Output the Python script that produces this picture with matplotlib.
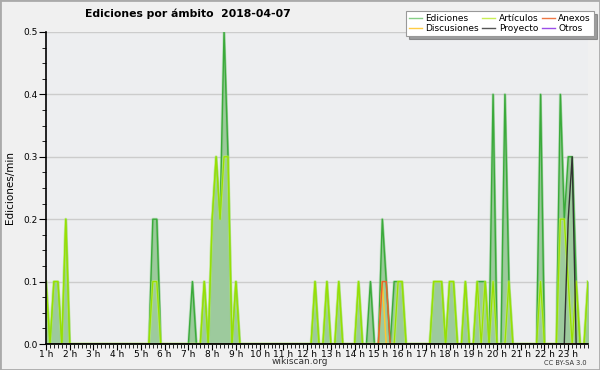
import numpy as np
import matplotlib
matplotlib.use("Agg")
import matplotlib.pyplot as plt
from matplotlib.patches import Rectangle
from matplotlib.ticker import MultipleLocator, FormatStrFormatter

# franjas de 10 minutos, de 01:00 a 23:50
n_franjas = 138
horas = [str(h) + " h" for h in range(1, 24)]

# valores (ediciones/min) por franja "HH:MM"
ediciones = [("01:00", 0.1), ("01:20", 0.1), ("01:30", 0.1), ("01:50", 0.2),
             ("05:30", 0.2), ("05:40", 0.2), ("07:10", 0.1), ("07:40", 0.1),
             ("08:00", 0.2), ("08:10", 0.3), ("08:20", 0.2), ("08:30", 0.5),
             ("08:40", 0.3), ("09:00", 0.1), ("12:20", 0.1), ("12:50", 0.1),
             ("13:20", 0.1), ("14:10", 0.1), ("14:40", 0.1), ("15:10", 0.2),
             ("15:20", 0.1), ("15:40", 0.1), ("15:50", 0.1), ("16:00", 0.1),
             ("17:20", 0.1), ("17:30", 0.1), ("17:40", 0.1), ("18:00", 0.1),
             ("18:10", 0.1), ("18:40", 0.1), ("19:10", 0.1), ("19:20", 0.1),
             ("19:30", 0.1), ("19:50", 0.4), ("20:20", 0.4), ("20:30", 0.1),
             ("21:50", 0.4), ("22:40", 0.4), ("22:50", 0.2), ("23:00", 0.3),
             ("23:10", 0.3), ("23:20", 0.1), ("23:50", 0.1)]
articulos = [("01:00", 0.1), ("01:20", 0.1), ("01:30", 0.1), ("01:50", 0.2),
             ("05:30", 0.1), ("05:40", 0.1), ("07:40", 0.1), ("08:00", 0.2),
             ("08:10", 0.3), ("08:20", 0.2), ("08:30", 0.3), ("08:40", 0.3),
             ("09:00", 0.1), ("12:20", 0.1), ("12:50", 0.1), ("13:20", 0.1),
             ("14:10", 0.1), ("15:50", 0.1), ("16:00", 0.1), ("17:20", 0.1),
             ("17:30", 0.1), ("17:40", 0.1), ("18:00", 0.1), ("18:10", 0.1),
             ("18:40", 0.1), ("19:10", 0.1), ("19:30", 0.1), ("19:50", 0.1),
             ("20:30", 0.1), ("21:50", 0.1), ("22:40", 0.2), ("22:50", 0.2),
             ("23:00", 0.1), ("23:20", 0.1), ("23:50", 0.1)]
anexos = [("15:10", 0.1), ("15:20", 0.1)]
discusiones = [("15:10", 0.1)]
proyecto = [("23:00", 0.2), ("23:10", 0.3)]
otros = []


def serie(pares):
    arr = np.zeros(n_franjas)
    for t, v in pares:
        h, m = map(int, t.split(":"))
        arr[(h - 1) * 6 + m // 10] = v
    return arr


x = 1 + np.arange(n_franjas) / 6.0

fig = plt.figure(figsize=(6, 3.7), dpi=100, facecolor="#f0f0f0")
ax = fig.add_axes([46 / 600, 26 / 370, 542 / 600, 312 / 370])
ax.set_facecolor("#edeef0")

y_ed = serie(ediciones)
ax.fill_between(x, y_ed, color="#9dca9d", zorder=2)
ax.plot(x, y_ed, color="#6fc66f", lw=2.2, alpha=0.3, zorder=3)
ax.plot(x, y_ed, color="#3aaa3a", lw=1, zorder=3)

y_art = serie(articulos)
ax.plot(x, y_art, color="#ccff55", lw=2, alpha=0.5, zorder=4)
ax.plot(x, y_art, color="#99e000", lw=0.9, zorder=4)

ax.plot(x, serie(discusiones), color="#ffc830", lw=1.1, zorder=5)
ax.plot(x, serie(anexos), color="#e8642c", lw=1.1, zorder=5)
ax.plot(x, serie(proyecto), color="#333333", lw=1, zorder=6)
ax.plot(x, serie(otros), color="#9b4ee8", lw=1, zorder=1)

ax.set_xlim(x[0], x[-1])
ax.set_ylim(0, 0.5)
ax.set_xticks(range(1, 24))
ax.set_xticklabels(horas, fontsize=6.5)
ax.xaxis.set_minor_locator(MultipleLocator(1 / 6))
ax.yaxis.set_major_locator(MultipleLocator(0.1))
ax.yaxis.set_minor_locator(MultipleLocator(0.025))
ax.yaxis.set_major_formatter(FormatStrFormatter("%.1f"))
ax.tick_params(axis="y", which="major", length=5, labelsize=6.5, pad=1)
ax.tick_params(axis="y", which="minor", length=3)
ax.tick_params(axis="x", which="major", length=4, pad=0)
ax.tick_params(axis="x", which="minor", length=3)
ax.grid(axis="y", color="#cccccc", lw=1, zorder=1)
for s in ["top", "right"]:
    ax.spines[s].set_visible(False)
for s in ["left", "bottom"]:
    ax.spines[s].set_zorder(10)
    ax.spines[s].set_linewidth(1.2)

ax.set_ylabel("Ediciones/min", fontsize=7.5, labelpad=6)

fig.text(0.313, 0.962, "Ediciones por ámbito  2018-04-07", fontsize=7.8,
         fontweight="bold", ha="center", va="center")
fig.text(0.5, 0.022, "wikiscan.org", fontsize=6.5, ha="center", va="center",
         color="#333333")
fig.text(0.942, 0.02, "CC BY-SA 3.0", fontsize=4.8, ha="center",
         va="center", color="#333333")

colores = {"Ediciones": "#86cf86", "Discusiones": "#ffcc44",
           "Artículos": "#c8ee55", "Proyecto": "#555555",
           "Anexos": "#ee7744", "Otros": "#9b4ee8"}
handles = [plt.Line2D([], [], color=c, lw=1) for c in colores.values()]
leg = fig.legend(handles, list(colores.keys()), ncol=3, loc="upper right",
                 bbox_to_anchor=(0.99, 0.97), fontsize=6.5, frameon=True,
                 fancybox=False, shadow=True, handlelength=1.4,
                 columnspacing=0.4, handletextpad=0.4, labelspacing=0.05,
                 borderpad=0.35, borderaxespad=0)
leg.get_frame().set_edgecolor("#999999")
leg.get_frame().set_linewidth(0.8)

fig.patches.append(Rectangle((0, 0), 1, 1, transform=fig.transFigure,
                             fill=False, edgecolor="#aaaaaa", lw=2))

fig.savefig("out.png", dpi=100, facecolor=fig.get_facecolor())
